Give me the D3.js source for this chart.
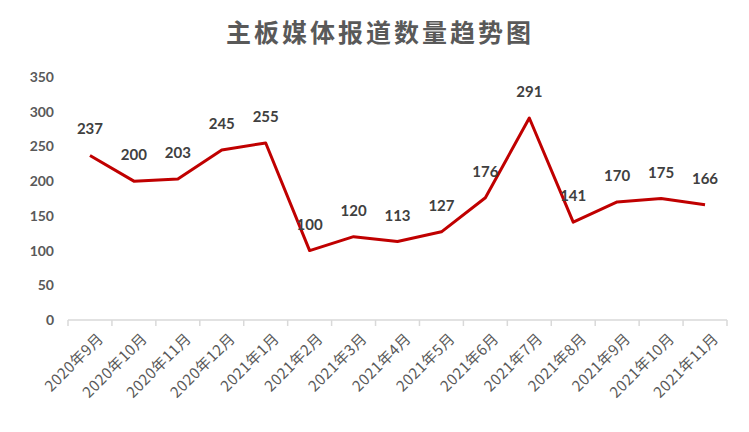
<!DOCTYPE html>
<html>
<head>
<meta charset="utf-8">
<script src="https://cdn.jsdelivr.net/npm/d3@7"></script>
<style>
  body { margin: 0; background: #fff; }
  text { font-family: "Noto Sans CJK SC", "Noto Sans", sans-serif; }
</style>
</head>
<body>
<div id="chart"></div>
<script>
var months = ["2020年9月", "2020年10月", "2020年11月", "2020年12月", "2021年1月",
              "2021年2月", "2021年3月", "2021年4月", "2021年5月", "2021年6月",
              "2021年7月", "2021年8月", "2021年9月", "2021年10月", "2021年11月"];
var counts = [237, 200, 203, 245, 255, 100, 120, 113, 127, 176, 291, 141, 170, 175, 166];
var yTicks = [0, 50, 100, 150, 200, 250, 300, 350];

var width = 749,
    height = 432;

var svg = d3.select("#chart").append("svg")
    .attr("width", width)
    .attr("height", height);

svg.append("text")
    .attr("x", 380)
    .attr("y", 42)
    .attr("text-anchor", "middle")
    .style("font-size", "25px")
    .style("font-weight", "bold")
    .style("fill", "#595959")
    .style("letter-spacing", "3px")
    .text("主板媒体报道数量趋势图");

var x = d3.scaleBand()
    .domain(months)
    .range([68, 727]);

var y = d3.scaleLinear()
    .domain([0, 350])
    .range([320, 77]);

// y axis labels only, no line
var yAxis = svg.append("g")
    .attr("transform", "translate(54,0)")
    .call(d3.axisLeft(y).tickValues(yTicks).tickSize(0).tickPadding(0));
yAxis.select(".domain").remove();
yAxis.selectAll("text")
    .style("font-family", "Lato, 'Noto Sans', sans-serif")
    .style("font-size", "14px")
    .style("font-weight", "bold")
    .style("fill", "#595959");

// x axis: ticks between categories
var xAxis = svg.append("g")
    .attr("transform", "translate(0,320)");
xAxis.append("line")
    .attr("x1", 68).attr("x2", 727)
    .attr("stroke", "#d9d9d9").attr("stroke-width", 1.5);
xAxis.selectAll(".tk")
    .data(months.concat(["end"]))
  .enter().append("line")
    .attr("x1", function(d, i){ return 68 + i * x.step(); })
    .attr("x2", function(d, i){ return 68 + i * x.step(); })
    .attr("y1", 0).attr("y2", 6)
    .attr("stroke", "#d9d9d9").attr("stroke-width", 1.5);
xAxis.selectAll(".lbl")
    .data(months)
  .enter().append("text")
    .attr("transform", function(d){
      return "translate(" + (x(d) + x.bandwidth() / 2 + 7) + ",12) rotate(-45)";
    })
    .attr("text-anchor", "end")
    .attr("dy", "0.7em")
    .style("font-size", "15px")
    .style("letter-spacing", "0.5px")
    .style("fill", "#595959")
    .text(function(d){ return d; });

var line = d3.line()
    .x(function(d, i){ return x(months[i]) + x.bandwidth() / 2; })
    .y(function(d){ return y(d); });

svg.append("path")
    .datum(counts)
    .attr("d", line)
    .attr("fill", "none")
    .attr("stroke", "#c00000")
    .attr("stroke-width", 3)
    .attr("stroke-linejoin", "round");

svg.selectAll(".val")
    .data(counts)
  .enter().append("text")
    .attr("x", function(d, i){ return x(months[i]) + x.bandwidth() / 2; })
    .attr("y", function(d){ return y(d) - 21; })
    .attr("text-anchor", "middle")
    .style("font-family", "Lato, 'Noto Sans', sans-serif")
    .style("font-size", "15px")
    .style("font-weight", "bold")
    .style("fill", "#404040")
    .text(function(d){ return d; });
</script>
</body>
</html>
